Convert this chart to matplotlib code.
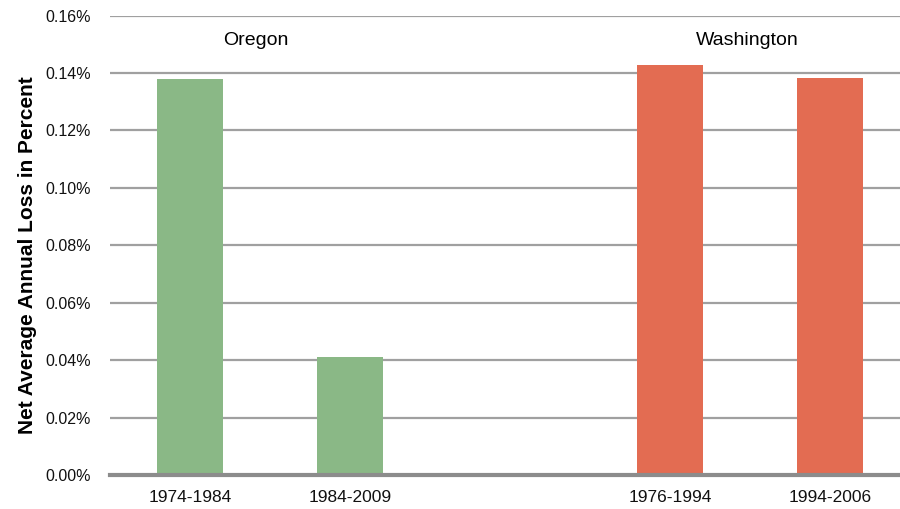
import matplotlib.pyplot as plt
import numpy as np

plt.rcParams['font.family'] = ['Liberation Sans', 'DejaVu Sans']

periods = ['1974-1984', '1984-2009', '', '1976-1994', '1994-2006']
loss = [0.1379, 0.0411, np.nan, 0.1429, 0.1383]  # percent
states = ['Oregon', 'Washington']
state_pos = [0.41, 3.48]
green = '#8AB886'
orange = '#E36C52'
colors = [green, green, 'none', orange, orange]

fig = plt.figure(figsize=(9, 5.09), dpi=100)
ax = fig.add_axes([0.1222, 0.0668, 0.8778, 0.9026])

x = np.arange(len(periods))
ax.bar(x, loss, width=0.41, color=colors, zorder=2)

ax.set_ylim(0, 0.16)
ax.set_xlim(-0.5, 4.4375)
yt = np.arange(0, 0.161, 0.02)
ax.set_yticks(yt)
ax.set_yticklabels(['%.2f%%' % v for v in yt])
ax.set_xticks([0, 1, 3, 4])
ax.set_xticklabels([periods[i] for i in [0, 1, 3, 4]])
ax.tick_params(axis='both', length=0, colors='#111111')
ax.tick_params(axis='y', pad=14, labelsize=11.5)
ax.tick_params(axis='x', pad=11, labelsize=12.5)

ax.grid(axis='y', color='#A0A0A0', linewidth=1.6, zorder=0)
for s in ['top', 'right', 'left']:
    ax.spines[s].set_visible(False)
ax.spines['bottom'].set_color('#8C8C8C')
ax.spines['bottom'].set_linewidth(3)
ax.spines['bottom'].set_zorder(3)

for name, p in zip(states, state_pos):
    ax.text(p, 0.1513, name, ha='center', va='center', fontsize=14)

ax.set_ylabel('Net Average Annual Loss in Percent', fontsize=15,
              fontweight='bold')
ax.yaxis.set_label_coords(-0.093, 0.479)

fig.savefig('out.png')
